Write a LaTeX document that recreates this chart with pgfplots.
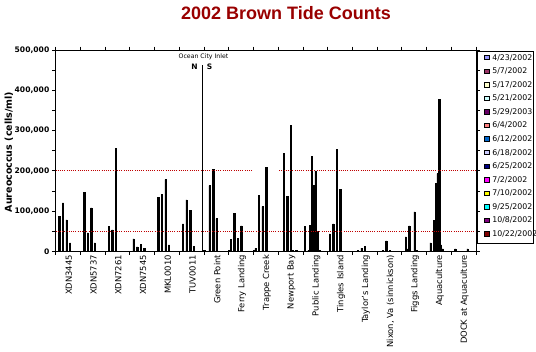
\documentclass[border=0pt]{standalone}
\usepackage{pgfplots}
\pgfplotsset{compat=1.18}
\usepackage{fontspec}
\setmainfont{DejaVu Sans}
\newfontfamily\titlefont{Liberation Sans}
\definecolor{c0}{HTML}{9999FF}
\definecolor{c1}{HTML}{993366}
\definecolor{c2}{HTML}{FFFFCC}
\definecolor{c3}{HTML}{CCFFFF}
\definecolor{c4}{HTML}{660066}
\definecolor{c5}{HTML}{FF8080}
\definecolor{c6}{HTML}{0066CC}
\definecolor{c7}{HTML}{CCCCFF}
\definecolor{c8}{HTML}{000080}
\definecolor{c9}{HTML}{FF00FF}
\definecolor{c10}{HTML}{FFFF00}
\definecolor{c11}{HTML}{00FFFF}
\definecolor{c12}{HTML}{800080}
\definecolor{c13}{HTML}{800000}
\definecolor{titlered}{HTML}{990000}
\definecolor{refred}{HTML}{C00000}
\pgfplotsset{
  swatch/.style={legend image code/.code={\draw[fill=#1, draw=black, line width=0.5bp] (0bp,-2.2bp) rectangle (4.4bp,2.2bp); \path (7.7bp,0bp);}},
  bars/.style={ybar, bar width=1.3bp, bar shift=#1, fill=black, draw=black, line width=0.5bp, forget plot},
}
\begin{document}
\begin{tikzpicture}
\path[use as bounding box] (-55.5bp,-100.7bp) rectangle (480.5bp,251.3bp);
\begin{axis}[
  at={(0,0)}, anchor=south west,
  scale only axis, width=420.5bp, height=201.3bp,
  xmin=-0.5, xmax=16.5, ymin=0, ymax=500000,
  axis line style={line width=0.8bp},
  xtick={-0.5,0.5,...,16.5},
  x tick label as interval,
  xticklabels={XDN3445,XDN5737,XDN7261,XDN7545,MKL0010,TUV0011,Green Point,Ferry Landing,Trappe Creek,Newport Bay,Public Landing,Tingles Island,Taylor's Landing,{Nixon, Va (sinnickson)},Figgs Landing,Aquaculture,DOCK at Aquaculture},
  xticklabel style={rotate=90, anchor=east, font=\fontsize{8.4bp}{9bp}\selectfont, inner sep=0pt, yshift=-1bp},
  ytick={0,100000,...,500000},
  minor ytick={50000,150000,...,450000},
  yticklabel style={font=\fontsize{7.6bp}{8bp}\selectfont\bfseries, inner sep=0pt, xshift=-2.5bp},
  /pgf/number format/.cd, fixed, 1000 sep={,}, assume math mode=true, /pgfplots/.cd,
  scaled y ticks=false,
  tick align=outside,
  major tick length=3.5bp, minor tick length=3.5bp,
  tick style={black, line width=0.6bp},
  legend style={at={(1.019,0.9801)}, anchor=north west, draw=none, fill=none, inner sep=0pt, row sep=6.97bp, font=\fontsize{7.8bp}{8bp}\selectfont, nodes={inner sep=0pt, text height=5.8bp, text depth=0.8bp, anchor=west}},
  legend cell align=left,
]
% 4/23
\addplot[bars=-12.02bp] coordinates {(6,3000) (7,2000) (8,3000)};
% 5/7
\addplot[bars=-10.25bp] coordinates {(7,30000) (8,7500) (10,61000) (11,43000)};
% 5/17
\addplot[bars=-8.48bp] coordinates {(0,86000) (1,146000) (2,61000) (3,31000) (4,134000) (5,68000) (14,36000) (15,21000) (16,6000)};
% 5/21
\addplot[bars=-6.71bp] coordinates {(6,163000) (7,95000) (8,138000) (9,243000) (10,3000) (11,68000) (12,2500) (13,3000) (14,6000)};
% 5/29
\addplot[bars=-4.95bp] coordinates {(0,120000) (1,46000) (2,53000) (3,11000) (4,141000) (5,128000) (10,64000) (14,63000) (15,76000)};
% 6/4
\addplot[bars=-3.18bp] coordinates {(6,203000) (7,32000) (8,111000) (9,136000) (10,236000) (11,253000) (12,8000) (13,26000) (15,168000)};
% 6/12
\addplot[bars=-1.41bp] coordinates {(0,78000) (1,108000) (2,256000) (3,18000) (4,178000) (5,101000) (10,164000) (15,193000)};
% 6/18
\addplot[bars=0.35bp] coordinates {(6,81000) (7,63000) (8,208000) (9,313000) (10,200000) (11,153000) (12,13000) (13,3000) (14,98000) (15,378000)};
% 6/25
\addplot[bars=2.12bp] coordinates {(0,21000) (1,21000) (3,8000) (4,16000) (5,11500) (9,1500) (10,49000) (14,3000) (15,16000)};
% 7/2
\addplot[bars=3.89bp] coordinates {(10,3000) (15,6000) (16,6000)};
% 7/10
\addplot[bars=5.65bp] coordinates {(9,3000)};
\addlegendimage{swatch=c0}\addlegendentry{4/23/2002}
\addlegendimage{swatch=c1}\addlegendentry{5/7/2002}
\addlegendimage{swatch=c2}\addlegendentry{5/17/2002}
\addlegendimage{swatch=c3}\addlegendentry{5/21/2002}
\addlegendimage{swatch=c4}\addlegendentry{5/29/2003}
\addlegendimage{swatch=c5}\addlegendentry{6/4/2002}
\addlegendimage{swatch=c6}\addlegendentry{6/12/2002}
\addlegendimage{swatch=c7}\addlegendentry{6/18/2002}
\addlegendimage{swatch=c8}\addlegendentry{6/25/2002}
\addlegendimage{swatch=c9}\addlegendentry{7/2/2002}
\addlegendimage{swatch=c10}\addlegendentry{7/10/2002}
\addlegendimage{swatch=c11}\addlegendentry{9/25/2002}
\addlegendimage{swatch=c12}\addlegendentry{10/8/2002}
\addlegendimage{swatch=c13}\addlegendentry{10/22/2002}
\draw[refred, line width=1bp, dash pattern=on 1bp off 1.2bp] (axis cs:-0.5,200000) -- (axis cs:7.44,200000);
\draw[refred, line width=1bp, dash pattern=on 1bp off 1.2bp] (axis cs:8.54,200000) -- (axis cs:16.5,200000);
\draw[refred, line width=1bp, dash pattern=on 1bp off 1.2bp] (axis cs:-0.5,50000) -- (axis cs:16.5,50000);
\draw[black, line width=0.8bp] (axis cs:5.45,0) -- (axis cs:5.45,462000);
\end{axis}
\node[font=\titlefont\bfseries\fontsize{18bp}{20bp}\selectfont, text=titlered] at (230.5bp,238.3bp) {2002 Brown Tide Counts};
\node[rotate=90, font=\fontsize{9.5bp}{10bp}\selectfont\bfseries] at (-46.5bp,99.3bp) {Aureococcus (cells/ml)};
\node[font=\fontsize{6.2bp}{7bp}\selectfont] at (148bp,194.3bp) {Ocean City Inlet};
\node[font=\fontsize{7.5bp}{8bp}\selectfont\bfseries] at (139bp,184.6bp) {N};
\node[font=\fontsize{7.5bp}{8bp}\selectfont\bfseries] at (154bp,184.6bp) {S};
\draw[black, line width=0.8bp] (422bp,8.3bp) rectangle (477.5bp,200.3bp);
\end{tikzpicture}
\end{document}
